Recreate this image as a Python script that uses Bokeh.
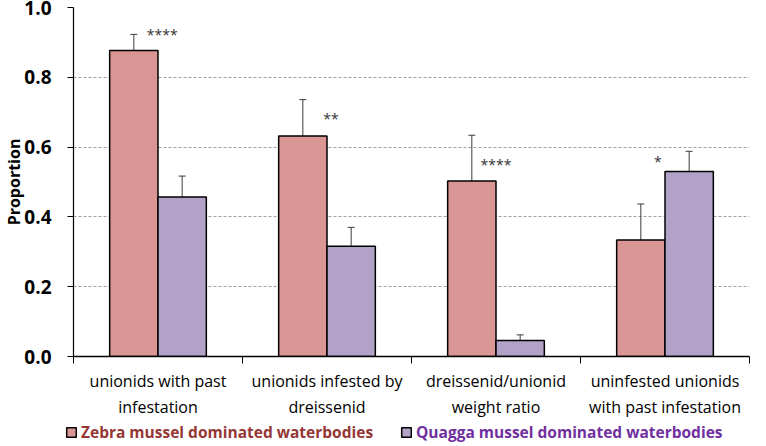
from bokeh.plotting import figure
from bokeh.layouts import column
from bokeh.models import (ColumnDataSource, Range1d, FixedTicker, Whisker, TeeHead,
                          Legend, LegendItem, NumeralTickFormatter)
from bokeh.core.properties import value
from bokeh.embed import file_html
from bokeh.resources import INLINE

categories = ["unionids with past\ninfestation",
              "unionids infested by\ndreissenid",
              "dreissenid/unionid\nweight ratio",
              "uninfested unionids\nwith past infestation"]
series = ["Zebra mussel dominated waterbodies", "Quagga mussel dominated waterbodies"]
zebra = [0.877, 0.632, 0.503, 0.334]
zebra_lo = [0.830, 0.527, 0.370, 0.232]
zebra_hi = [0.923, 0.736, 0.634, 0.437]
quagga = [0.457, 0.316, 0.046, 0.530]
quagga_lo = [0.400, 0.264, 0.032, 0.471]
quagga_hi = [0.517, 0.370, 0.062, 0.588]
sig_labels = ["****", "**", "****", "*"]
sig_y = [0.93, 0.69, 0.56, 0.566]
y_ticks = [0.0, 0.2, 0.4, 0.6, 0.8, 1.0]

FONT = "Open Sans"
ZCOL = "#D99694"
QCOL = "#B3A2C7"
BW = 0.286
n = len(categories)
centers = [i + 0.5 for i in range(n)]
star_dx = [0.025, 0.024, 0.0, -0.043]

zsrc = ColumnDataSource(dict(x=[c - BW / 2 for c in centers], top=zebra, lo=zebra_lo, hi=zebra_hi))
qsrc = ColumnDataSource(dict(x=[c + BW / 2 for c in centers], top=quagga, lo=quagga_lo, hi=quagga_hi))
ssrc = ColumnDataSource(dict(x=[c + d for c, d in zip(centers, star_dx)], y=sig_y, t=sig_labels))

p = figure(width=750, height=420, output_backend="svg", toolbar_location=None,
           x_range=Range1d(0, n), y_range=Range1d(0, 1.0),
           min_border_left=0, min_border_right=1, min_border_top=7, min_border_bottom=56)
p.outline_line_color = None
p.xgrid.visible = False
p.ygrid.ticker = FixedTicker(ticks=y_ticks)
p.ygrid.grid_line_color = "#a0a0a0"
p.ygrid.grid_line_dash = "3 2"
p.ygrid.grid_line_width = 1

p.vbar(x="x", top="top", width=BW, source=zsrc, fill_color=ZCOL,
       line_color="black", line_width=1.5)
p.vbar(x="x", top="top", width=BW, source=qsrc, fill_color=QCOL,
       line_color="black", line_width=1.5)

for src in (zsrc, qsrc):
    w = Whisker(base="x", upper="hi", lower="lo", source=src, dimension="height",
                line_color="#3a3a3a", line_width=1,
                upper_head=TeeHead(size=7, line_color="#3a3a3a", line_width=1),
                lower_head=TeeHead(size=7, line_color="#3a3a3a", line_width=1))
    p.add_layout(w)

p.text(x="x", y="y", text="t", source=ssrc, text_align="center", text_baseline="middle",
       y_offset=3, text_font=value(FONT), text_font_size="14px", text_color="#333333")

# axes
xa = p.xaxis[0]
xa.ticker = FixedTicker(ticks=centers, minor_ticks=list(range(n + 1)))
xa.major_label_overrides = {c: lab for c, lab in zip(centers, categories)}
xa.major_tick_out = 0
xa.major_tick_in = 0
xa.minor_tick_out = 7
xa.minor_tick_in = 0
xa.minor_tick_line_color = "black"
xa.axis_line_color = "black"
xa.axis_line_width = 1.5
xa.major_label_text_font = FONT
xa.major_label_text_font_size = "16px"
xa.major_label_text_color = "black"
xa.major_label_standoff = 6

ya = p.yaxis[0]
ya.ticker = FixedTicker(ticks=y_ticks)
ya.formatter = NumeralTickFormatter(format="0.0")
ya.minor_tick_line_color = None
ya.major_tick_out = 6
ya.major_tick_in = 0
ya.major_tick_line_color = "black"
ya.axis_line_color = "black"
ya.axis_line_width = 1.2
ya.major_label_text_font = FONT
ya.major_label_text_font_size = "19px"
ya.major_label_text_font_style = "bold"
ya.major_label_text_color = "black"
ya.major_label_standoff = 16
ya.axis_label = "Proportion"
ya.axis_label_text_font = FONT
ya.axis_label_text_font_size = "16px"
ya.axis_label_text_font_style = "bold"
ya.axis_label_text_color = "black"
ya.axis_label_standoff = -4

# legend strip
lg = figure(width=750, height=24, output_backend="svg", toolbar_location=None,
            x_range=Range1d(0, 1), y_range=Range1d(0, 1),
            min_border_left=0, min_border_right=0, min_border_top=0, min_border_bottom=0)
lg.axis.visible = False
lg.grid.visible = False
lg.outline_line_color = None
for fig in (p, lg):
    try:
        fig.frame_align = False
    except Exception:
        pass
dz = lg.vbar(x=[0], top=[0], width=0.1, fill_color=ZCOL, line_color="black",
             line_width=1.5, visible=False)
dq = lg.vbar(x=[0], top=[0], width=0.1, fill_color=QCOL, line_color="black",
             line_width=1.5, visible=False)

common = dict(orientation="horizontal", padding=0, margin=0, border_line_color=None,
              background_fill_alpha=0, glyph_width=12, glyph_height=12, label_standoff=4,
              inactive_fill_alpha=0,
              label_text_font=FONT, label_text_font_size="15.5px", label_text_font_style="bold")
leg_z = Legend(items=[LegendItem(label=value(series[0]), renderers=[dz])], location=(65, 1),
               label_text_color="#953735", **common)
leg_q = Legend(items=[LegendItem(label=value(series[1]), renderers=[dq])], location=(400, 1),
               label_text_color="#7030A0", **common)
lg.add_layout(leg_z)
lg.add_layout(leg_q)

open("out.html", "w").write(file_html(column(p, lg, spacing=0), INLINE))
